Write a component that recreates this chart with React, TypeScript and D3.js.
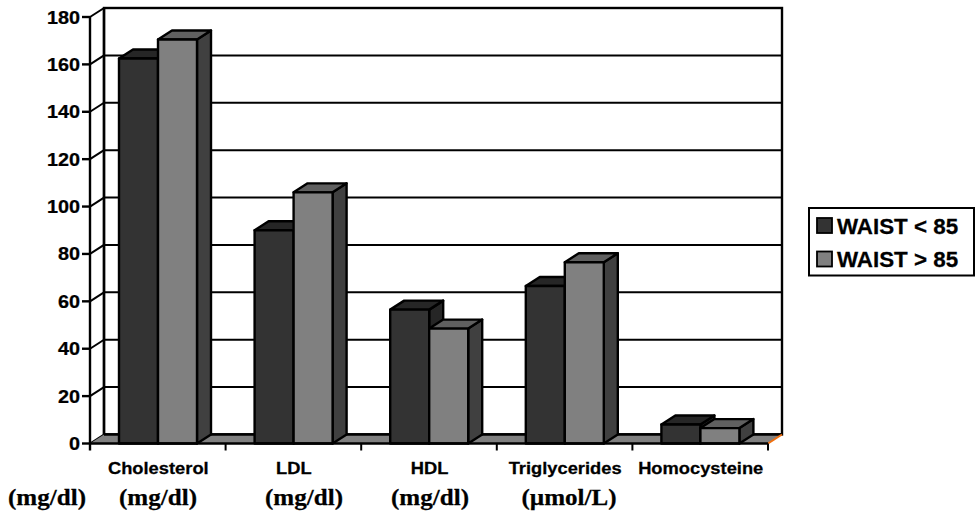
import React from "react";
import * as d3 from "d3";

const categories = ["Cholesterol", "LDL", "HDL", "Triglycerides", "Homocysteine"];
const waistLow = [162.5, 90, 56.5, 66.5, 8];
const waistHigh = [170.5, 106, 48.5, 76.5, 6.5];
const yTicks = [0, 20, 40, 60, 80, 100, 120, 140, 160, 180];
const unitLabels = ["(mg/dl)", "(mg/dl)", "(mg/dl)", "(mg/dl)", "(µmol/L)"];
const unitX = [47, 158, 304, 430, 569];
const seriesNames = ["WAIST < 85", "WAIST > 85"];

const DX = 14;
const DY = -9;
const y = d3.scaleLinear().domain([0, 180]).range([443.5, 17]);
const x = d3.scaleBand().domain(categories).range([90, 768]);
const COL = {
  low: { front: "#333333", top: "#262626", side: "#262626" },
  high: { front: "#808080", top: "#606060", side: "#404040" },
};
const poly = (pts: number[][]) => pts.map((p) => p.join(",")).join(" ");

function Bar({ x0, w, v, c }: { x0: number; w: number; v: number; c: any }) {
  const t = y(v);
  const b = y(0);
  const s = { stroke: "#000", strokeWidth: 2.4, strokeLinejoin: "round" as const };
  return (
    <g>
      <polygon points={poly([[x0 + w, t], [x0 + w + DX, t + DY], [x0 + w + DX, b + DY], [x0 + w, b]])} fill={c.side} {...s} />
      <polygon points={poly([[x0, t], [x0 + DX, t + DY], [x0 + w + DX, t + DY], [x0 + w, t]])} fill={c.top} {...s} />
      <rect x={x0} y={t} width={w} height={b - t} fill={c.front} {...s} />
    </g>
  );
}

function T({ x, y, sx, anchor, family, size, children }: any) {
  return (
    <text transform={`translate(${x},${y}) scale(${sx},1)`} textAnchor={anchor} fontFamily={family} fontWeight="bold" fontSize={size} fill="#000" stroke="#000" strokeWidth={0.25}>
      {children}
    </text>
  );
}

export default function App() {
  const y0 = y(0);
  const xL = 90;
  const xR = 768;
  const sans = "'Liberation Sans', Arial, sans-serif";
  const serif = "'Liberation Serif', serif";
  return (
    <svg width={975} height={514} style={{ position: "absolute", left: 0, top: 0, background: "#fff" }}>
      <rect x={xL + DX} y={y(180) + DY} width={xR - xL} height={y0 - y(180)} fill="#fff" stroke="#000" strokeWidth={2.4} />
      {yTicks.map((t) => (
        <g key={t}>
          <line x1={xL + DX} x2={xR + DX} y1={y(t) + DY} y2={y(t) + DY} stroke="#000" strokeWidth={2} />
          <line x1={xL} x2={xL + DX} y1={y(t)} y2={y(t) + DY} stroke="#000" strokeWidth={2} />
        </g>
      ))}
      <polygon points={poly([[xL, y0], [xL + DX, y0 + DY], [xR + DX, y0 + DY], [xR, y0]])} fill="#808080" />
      <line x1={xL + DX} x2={xR + DX} y1={y0 + DY} y2={y0 + DY} stroke="#000" strokeWidth={2.4} />
      <line x1={xL + DX} x2={xL + DX} y1={y(180) + DY} y2={y0 + DY} stroke="#000" strokeWidth={2.4} />
      <line x1={xR} x2={xR + DX} y1={y0} y2={y0 + DY} stroke="#f07010" strokeWidth={2} />
      {categories.map((c, i) => {
        const x0 = x(c)! + 29;
        return (
          <g key={c}>
            <Bar x0={x0} w={39} v={waistLow[i]} c={COL.low} />
            <Bar x0={x0 + 39} w={39} v={waistHigh[i]} c={COL.high} />
          </g>
        );
      })}
      <line x1={xL} x2={xL} y1={y(180)} y2={y0 + 7} stroke="#000" strokeWidth={2.4} />
      <line x1={xL} x2={xR} y1={y0} y2={y0} stroke="#000" strokeWidth={2.4} />
      {yTicks.map((t) => (
        <g key={t}>
          <line x1={xL - 8} x2={xL} y1={y(t)} y2={y(t)} stroke="#000" strokeWidth={2.4} />
          <T x={xL - 10} y={y(t) + 6.5} sx={1.1} anchor="end" family={sans} size={18}>{t}</T>
        </g>
      ))}
      {categories.map((c) => (
        <line key={c} x1={x(c)! + x.bandwidth()} x2={x(c)! + x.bandwidth()} y1={y0} y2={y0 + 7} stroke="#000" strokeWidth={2} />
      ))}
      {categories.map((c) => (
        <T key={c} x={x(c)! + x.bandwidth() / 2 + 0.5} y={473.5} sx={1.145} anchor="middle" family={sans} size={16}>{c}</T>
      ))}
      {unitLabels.map((u, i) => (
        <T key={i} x={unitX[i]} y={505} sx={1.09} anchor="middle" family={serif} size={23}>{u}</T>
      ))}
      <rect x={809} y={208} width={165} height={67.5} fill="#fff" stroke="#000" strokeWidth={2} />
      {seriesNames.map((s, i) => (
        <g key={s}>
          <rect x={817} y={218 + i * 33.5} width={15} height={15} fill={i === 0 ? "#333333" : "#808080"} stroke="#000" strokeWidth={1.8} />
          <T x={837} y={233.5 + i * 33} sx={1.04} anchor="start" family={sans} size={21.5}>{s}</T>
        </g>
      ))}
    </svg>
  );
}
